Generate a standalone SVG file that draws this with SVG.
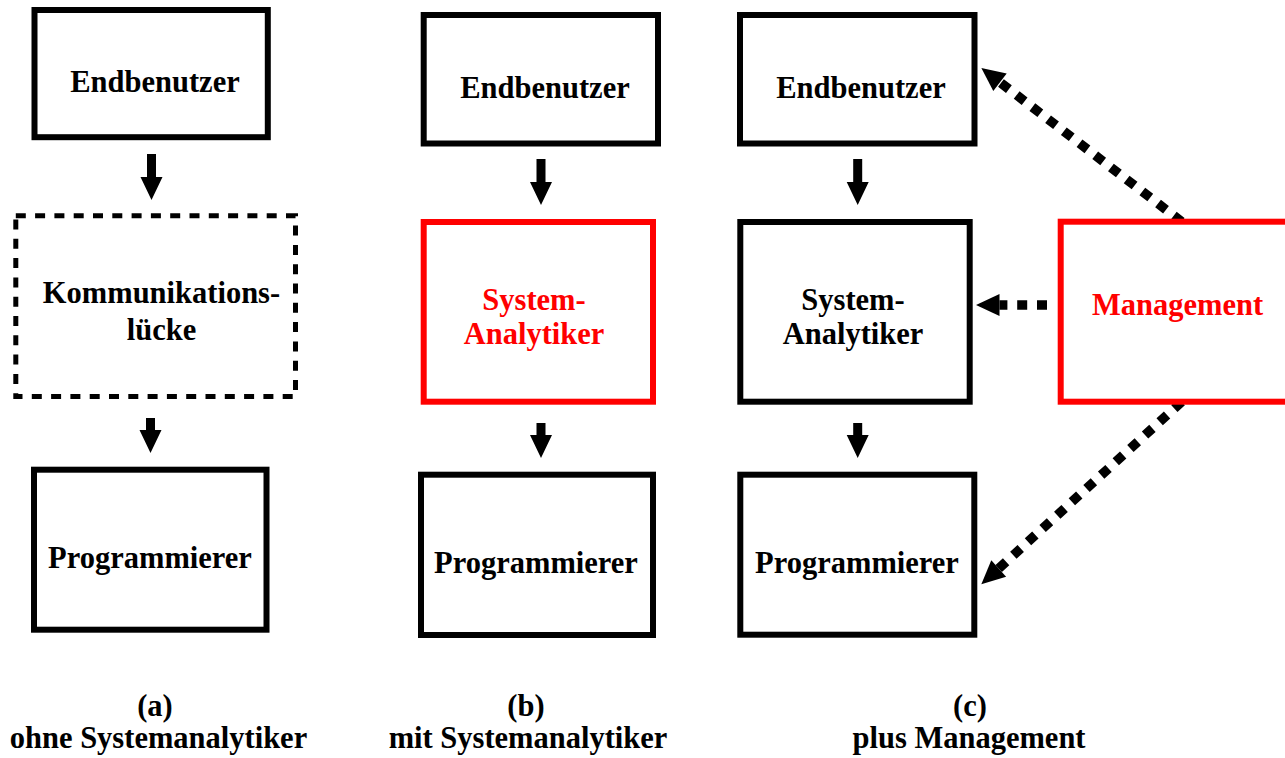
<svg xmlns="http://www.w3.org/2000/svg" xmlns:xlink="http://www.w3.org/1999/xlink" width="1285" height="758" viewBox="0 0 1285 758">
  <style>
    .box { fill: #ffffff; stroke: #000000; stroke-width: 6; }
    .box.red { stroke: #ff0000; }
    .box.gap { stroke-width: 5; stroke-dasharray: 10 9.3; }
    .lbl { font-family: "Liberation Serif", "Times New Roman", serif; font-weight: bold; font-size: 30.5px; text-anchor: middle; fill: #000000; }
    .lbl.red { fill: #ff0000; }
    .flow { fill: #000000; }
    .dotted { fill: none; stroke: #000000; stroke-width: 9.5; stroke-dasharray: 10 9.8; marker-end: url(#head); }
  </style>
  <defs>
    <!-- block arrows pointing down, tip at the origin -->
    <path id="arrow-long" d="M-4.5,-46 H4.5 V-23 H11 L0,0 L-11,-23 H-4.5 Z"/>
    <path id="arrow-short" d="M-4.5,-35 H4.5 V-23 H11 L0,0 L-11,-23 H-4.5 Z"/>
    <marker id="head" markerUnits="userSpaceOnUse" markerWidth="24" markerHeight="24" refX="0" refY="0" orient="auto" overflow="visible">
      <path d="M0,-11 L23.5,0 L0,11 Z" fill="#000000"/>
    </marker>
  </defs>

  <rect width="1285" height="758" fill="#ffffff"/>

  <!-- connectors -->
  <g id="connectors">
    <use href="#arrow-long" xlink:href="#arrow-long" class="flow" x="151.5" y="200"/>
    <use href="#arrow-short" xlink:href="#arrow-short" class="flow" x="150.5" y="453"/>
    <use href="#arrow-long" xlink:href="#arrow-long" class="flow" x="541" y="205"/>
    <use href="#arrow-short" xlink:href="#arrow-short" class="flow" x="541" y="458"/>
    <use href="#arrow-long" xlink:href="#arrow-long" class="flow" x="857.7" y="205"/>
    <use href="#arrow-short" xlink:href="#arrow-short" class="flow" x="857.7" y="458"/>
    <line class="dotted" x1="1181.7" y1="221.7" x2="1000" y2="82.3"/>
    <line class="dotted" x1="1047" y1="305" x2="999.5" y2="305"/>
    <line class="dotted" x1="1181.7" y1="401.7" x2="998.7" y2="568.5"/>
  </g>

  <!-- (a) ohne Systemanalytiker -->
  <g id="a-endbenutzer">
    <rect class="box" x="34.5" y="10" width="233.3" height="127.2"/>
    <text class="lbl" x="155" y="92">Endbenutzer</text>
  </g>
  <g id="a-luecke">
    <rect class="box gap" x="15.8" y="215.8" width="279.7" height="180.7"/>
    <text class="lbl" x="161.5" y="303">Kommunikations-</text>
    <text class="lbl" x="161.5" y="340">lücke</text>
  </g>
  <g id="a-programmierer">
    <rect class="box" x="34" y="469.7" width="232.5" height="160"/>
    <text class="lbl" x="150" y="568">Programmierer</text>
  </g>

  <!-- (b) mit Systemanalytiker -->
  <g id="b-endbenutzer">
    <rect class="box" x="423.7" y="15" width="234.3" height="128.5"/>
    <text class="lbl" x="545" y="98">Endbenutzer</text>
  </g>
  <g id="b-analytiker">
    <rect class="box red" x="423.7" y="222" width="229.3" height="179.7"/>
    <text class="lbl red" x="534" y="310">System-</text>
    <text class="lbl red" x="534" y="344">Analytiker</text>
  </g>
  <g id="b-programmierer">
    <rect class="box" x="421" y="474.7" width="232" height="160.3"/>
    <text class="lbl" x="536" y="573">Programmierer</text>
  </g>

  <!-- (c) plus Management -->
  <g id="c-endbenutzer">
    <rect class="box" x="740" y="15" width="234.5" height="128.5"/>
    <text class="lbl" x="861" y="98">Endbenutzer</text>
  </g>
  <g id="c-analytiker">
    <rect class="box" x="740.3" y="222" width="229.4" height="179.7"/>
    <text class="lbl" x="853" y="310">System-</text>
    <text class="lbl" x="853" y="344">Analytiker</text>
  </g>
  <g id="c-programmierer">
    <rect class="box" x="740.3" y="474.7" width="234" height="160"/>
    <text class="lbl" x="857" y="573">Programmierer</text>
  </g>
  <g id="c-management">
    <rect class="box red" x="1060.7" y="221.7" width="240" height="180"/>
    <text class="lbl red" x="1177.5" y="315">Management</text>
  </g>

  <!-- captions -->
  <g id="captions">
    <text class="lbl" x="155" y="716">(a)</text>
    <text class="lbl" x="158.5" y="748">ohne Systemanalytiker</text>
    <text class="lbl" x="526" y="716">(b)</text>
    <text class="lbl" x="528" y="748">mit Systemanalytiker</text>
    <text class="lbl" x="970" y="716">(c)</text>
    <text class="lbl" x="969" y="748">plus Management</text>
  </g>
</svg>
